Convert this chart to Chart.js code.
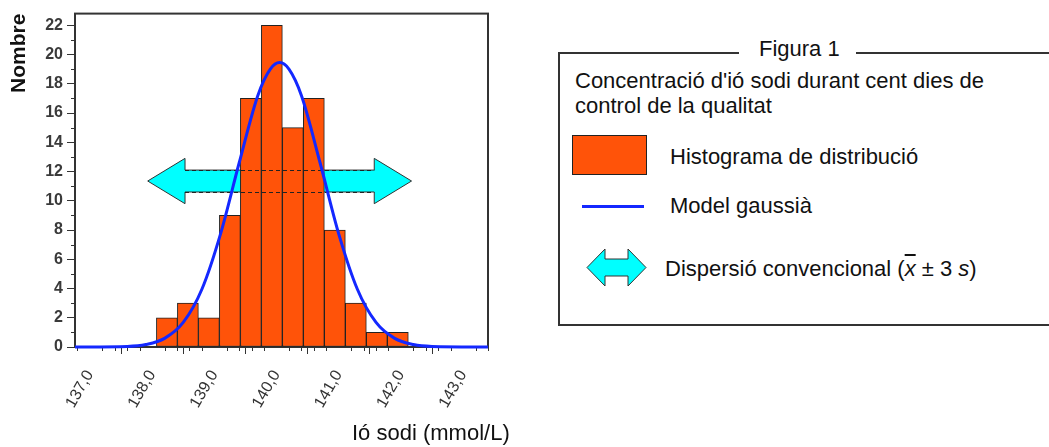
<!DOCTYPE html>
<html>
<head>
<meta charset="utf-8">
<title>Figura 1</title>
<script src="https://cdn.jsdelivr.net/npm/chart.js@4.4.1/dist/chart.umd.min.js"></script>
<style>
    html, body { margin: 0; padding: 0; background: #fff; }
    body {
        width: 1049px; height: 447px; position: relative; overflow: hidden;
        font-family: "Liberation Sans", Arial, sans-serif; color: #111;
    }
    #plotWrap { position: absolute; left: 0; top: 0; width: 520px; height: 447px; }
    .txt { position: absolute; white-space: nowrap; line-height: 1; font-size: 22px; }
    #legendBox {
        position: absolute; left: 558px; top: 52px; width: 540px; height: 274px;
        border: 2px solid #333; box-sizing: border-box;
    }
    #figTitle { background: #fff; padding: 0 16px 0 20px; left: 739px; top: 38px; }
    #swatch {
        position: absolute; left: 572px; top: 135px; width: 75px; height: 40px;
        background: #ff5309; border: 1px solid #222; box-sizing: border-box;
    }
    #blueLine { position: absolute; left: 582px; top: 205px; width: 62px; height: 3px; background: #1428ff; }
    #arrowIcon { position: absolute; left: 586px; top: 248px; }
    #xTitle { left: 352px; top: 422px; font-size: 22px; }
</style>
</head>
<body>
<div id="plotWrap"><canvas id="histChart" width="520" height="447"></canvas></div>
<div class="txt" id="xTitle">Ió sodi (mmol/L)</div>

<div id="legendBox"></div>
<div class="txt" id="figTitle">Figura 1</div>
<div class="txt" style="left:575px; top:70px;">Concentració d'ió sodi durant cent dies de</div>
<div class="txt" style="left:575px; top:95px;">control de la qualitat</div>
<div id="swatch"></div>
<div class="txt" style="left:670px; top:146px;">Histograma de distribució</div>
<div id="blueLine"></div>
<div class="txt" style="left:670px; top:195px;">Model gaussià</div>
<svg id="arrowIcon" width="62" height="40" viewBox="0 0 62 40">
    <polygon points="1,19.5 19,1 19,11 42,11 42,1 60,19.5 42,38 42,28 19,28 19,38"
             fill="#00ffff" stroke="#333" stroke-width="1"/>
</svg>
<div class="txt" style="left:665px; top:258px;">Dispersió convencional (<i style="text-decoration: overline;">x</i> ± 3 <i>s</i>)</div>

<script>
// histogram: bin centres (mmol/L) and counts (100 days)
const binCenters = [138.2375, 138.575, 138.9125, 139.25, 139.5875, 139.925,
                    140.2625, 140.6, 140.9375, 141.275, 141.6125, 141.95];
const counts = [2, 3, 2, 9, 17, 22, 15, 17, 8, 3, 1, 1];

// gaussian model
const gaussX = [136.76, 137.6, 137.9, 138.2, 138.5, 138.8, 139.1, 139.4, 139.7, 139.9, 140.05,
                140.2, 140.4, 140.7, 141.0, 141.3, 141.6, 141.9, 142.2, 142.5, 143.4];
const gaussY = [0, 0.04, 0.17, 0.59, 1.68, 3.95, 7.74, 12.6, 17.2, 19.0, 19.45,
                19.0, 17.2, 12.6, 7.74, 3.95, 1.68, 0.59, 0.17, 0.04, 0];

// conventional dispersion arrow (mean ± 3 s)
const dispMean = 140.05;
const dispS = 0.707;
const arrowShaft = [10.6, 12.1];
const arrowHead = [9.8, 12.9];
const arrowHeadLen = 0.6;

const xRange = [136.76, 143.4];
const yRange = [0, 22.8];

const INK = '#333';

const plotDecor = {
    id: 'plotDecor',
    beforeDatasetsDraw(chart) {
        const { ctx, chartArea: a, scales: { x, y } } = chart;
        ctx.save();

        // frame
        ctx.strokeStyle = INK;
        ctx.lineWidth = 2;
        ctx.strokeRect(a.left, a.top, a.right - a.left, a.bottom - a.top);

        // minor ticks
        ctx.lineWidth = 1;
        ctx.beginPath();
        for (let k = 0; ; k++) {
            const v = 136.8 + k * 0.2;
            if (v > xRange[1]) break;
            if (Math.abs(v - Math.round(v)) < 1e-6) continue;
            const px = Math.round(x.getPixelForValue(v)) + 0.5;
            ctx.moveTo(px, a.bottom);
            ctx.lineTo(px, a.bottom + 4);
        }
        for (let v = 1; v < yRange[1]; v += 2) {
            const py = Math.round(y.getPixelForValue(v)) + 0.5;
            ctx.moveTo(a.left, py);
            ctx.lineTo(a.left - 4, py);
        }
        ctx.stroke();

        // dispersion arrow, behind the bars
        const lo = dispMean - 3 * dispS, hi = dispMean + 3 * dispS;
        const xl = x.getPixelForValue(lo), xr = x.getPixelForValue(hi);
        const bl = x.getPixelForValue(lo + arrowHeadLen), br = x.getPixelForValue(hi - arrowHeadLen);
        const ySt = y.getPixelForValue(arrowShaft[1]), ySb = y.getPixelForValue(arrowShaft[0]);
        const yHt = y.getPixelForValue(arrowHead[1]), yHb = y.getPixelForValue(arrowHead[0]);
        const yc = (yHt + yHb) / 2;
        ctx.beginPath();
        ctx.moveTo(xl, yc);
        ctx.lineTo(bl, yHt);
        ctx.lineTo(bl, ySt);
        ctx.lineTo(br, ySt);
        ctx.lineTo(br, yHt);
        ctx.lineTo(xr, yc);
        ctx.lineTo(br, yHb);
        ctx.lineTo(br, ySb);
        ctx.lineTo(bl, ySb);
        ctx.lineTo(bl, yHb);
        ctx.closePath();
        ctx.fillStyle = '#00ffff';
        ctx.fill();
        ctx.strokeStyle = INK;
        ctx.lineWidth = 1;
        ctx.stroke();
        ctx.restore();
    },
    afterDatasetDraw(chart, args) {
        if (args.index !== 0) return;
        // arrow shaft edges show through the bars as dashes
        const { ctx, scales: { x, y } } = chart;
        const lo = dispMean - 3 * dispS, hi = dispMean + 3 * dispS;
        const bl = x.getPixelForValue(lo + arrowHeadLen), br = x.getPixelForValue(hi - arrowHeadLen);
        ctx.save();
        ctx.strokeStyle = '#222';
        ctx.lineWidth = 1;
        ctx.setLineDash([4, 3]);
        ctx.beginPath();
        arrowShaft.forEach(v => {
            const py = Math.round(y.getPixelForValue(v)) + 0.5;
            ctx.moveTo(bl, py);
            ctx.lineTo(br, py);
        });
        ctx.stroke();
        ctx.restore();
    }
};

new Chart(document.getElementById('histChart'), {
    type: 'bar',
    data: {
        datasets: [
            {
                type: 'bar',
                label: 'Histograma de distribució',
                data: binCenters.map((c, i) => ({ x: c, y: counts[i] })),
                backgroundColor: '#ff5309',
                borderColor: '#222',
                borderWidth: 1,
                borderSkipped: false,
                barPercentage: 1,
                categoryPercentage: 1,
                grouped: false,
                order: 2
            },
            {
                type: 'line',
                label: 'Model gaussià',
                data: gaussX.map((g, i) => ({ x: g, y: gaussY[i] })),
                borderColor: '#1428ff',
                borderWidth: 3,
                pointRadius: 0,
                fill: false,
                cubicInterpolationMode: 'monotone',
                clip: { left: 0, right: 0, top: 4, bottom: 4 },
                order: 1
            }
        ]
    },
    options: {
        responsive: false,
        animation: false,
        events: [],
        layout: { padding: { left: 0, top: 12, right: 32, bottom: 0 } },
        plugins: { legend: { display: false }, tooltip: { enabled: false } },
        scales: {
            x: {
                type: 'linear',
                min: xRange[0],
                max: xRange[1],
                offset: false,
                afterFit: s => { s.height = 100; },
                grid: { drawOnChartArea: false, tickLength: 7, tickColor: INK },
                border: { display: false },
                ticks: {
                    stepSize: 1,
                    includeBounds: false,
                    autoSkip: false,
                    minRotation: 60,
                    maxRotation: 60,
                    padding: 13,
                    color: '#333',
                    font: { family: 'Liberation Sans', size: 16 },
                    callback: v => v.toFixed(1).replace('.', ',')
                }
            },
            y: {
                min: yRange[0],
                max: yRange[1],
                afterFit: s => { s.width = 75; },
                grid: { drawOnChartArea: false, tickLength: 8, tickColor: INK },
                border: { display: false },
                ticks: {
                    stepSize: 2,
                    includeBounds: false,
                    autoSkip: false,
                    padding: 4,
                    color: '#3a3a3a',
                    font: { family: 'Liberation Sans', size: 16, weight: 'bold' }
                },
                title: {
                    display: true,
                    text: 'Nombre',
                    align: 'end',
                    color: '#111',
                    font: { family: 'Liberation Sans', size: 21, weight: 'bold' },
                    padding: { top: 7, bottom: 0 }
                }
            }
        }
    },
    plugins: [plotDecor]
});
</script>
</body>
</html>
